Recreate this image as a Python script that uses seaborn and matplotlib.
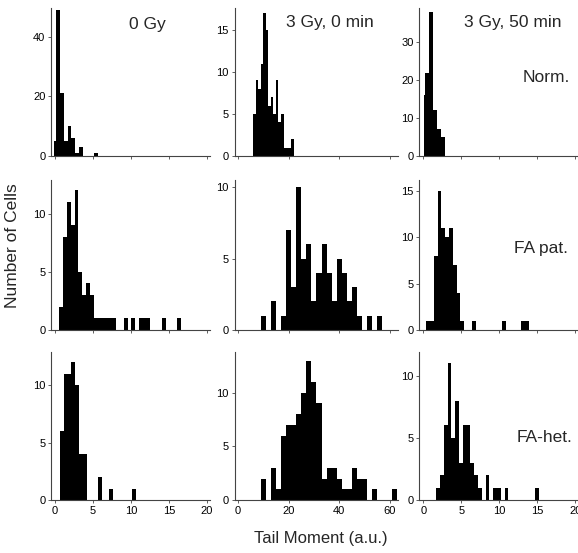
import numpy as np
import pandas as pd
import matplotlib
matplotlib.use("Agg")
import matplotlib.pyplot as plt
import seaborn as sns

# Bin counts (left edge of first bin, bin width, counts)
# rows: Norm., FA pat., FA-het. / columns: 0 Gy, 3 Gy 0 min, 3 Gy 50 min
norm_0gy = [5, 49, 21, 5, 10, 6, 1, 3, 0, 0, 0, 1]
norm_0gy_bins = (-0.35, 0.5, -0.13)

norm_3gy0 = [5, 9, 8, 11, 17, 15, 6, 7, 5, 9, 4, 5, 1, 1, 1, 2]
norm_3gy0_bins = (6, 1, None)

norm_3gy50 = [16, 22, 38, 12, 7, 5]
norm_3gy50_bins = (-0.2, 0.5, 0.13)

fa_0gy = [2, 8, 11, 9, 12, 5, 3, 4, 3, 1, 1, 1, 1, 1, 1, 0, 0, 1, 0, 1,
          0, 1, 1, 1, 0, 0, 0, 1, 0, 0, 0, 1]
fa_0gy_bins = (0.55, 0.5, None)

fa_3gy0 = [1, 0, 2, 0, 1, 7, 3, 10, 5, 6, 2, 4, 6, 4, 2, 5, 4, 2, 3, 1,
           0, 1, 0, 1]
fa_3gy0_bins = (9, 2, None)

fa_3gy50 = [1, 1, 8, 15, 11, 10, 11, 7, 4, 1, 0, 0, 1, 0, 0, 0, 0, 0, 0,
            0, 1, 0, 0, 0, 0, 1, 1]
fa_3gy50_bins = (0.4, 0.5, None)

het_0gy = [6, 11, 11, 12, 10, 4, 4, 0, 0, 0, 2, 0, 0, 1, 0, 0, 0, 0, 0, 1]
het_0gy_bins = (0.65, 0.5, None)

het_3gy0 = [2, 0, 3, 1, 6, 7, 7, 8, 10, 13, 11, 9, 2, 3, 3, 2, 1, 1, 3, 2,
            2, 0, 1, 0, 0, 0, 1]
het_3gy0_bins = (9, 2, None)

het_3gy50 = [1, 2, 6, 11, 5, 8, 3, 6, 6, 3, 2, 1, 0, 2, 0, 1, 1, 0, 1, 0,
             0, 0, 0, 0, 0, 0, 1]
het_3gy50_bins = (1.7, 0.5, None)

col_titles = ["0 Gy", "3 Gy, 0 min", "3 Gy, 50 min"]
row_titles = ["Norm.", "FA pat.", "FA-het."]

W, H = 578, 553


def px(x, y):
    return x / W, 1 - y / H


def edges_for(counts, bins):
    start, width, first_left = bins
    e = start + width * np.arange(len(counts) + 1)
    if first_left is not None:
        e[0] = first_left
    return e


def draw(ax, counts, bins):
    e = edges_for(counts, bins)
    df = pd.DataFrame({"tail": (e[:-1] + e[1:]) / 2, "n": counts})
    sns.histplot(data=df, x="tail", weights="n", bins=e.tolist(), ax=ax,
                 element="step", fill=True, color="black", alpha=1,
                 linewidth=0)
    ax.set(xlabel="", ylabel="")


sns.set_style("ticks")
plt.rcParams["font.family"] = ["Liberation Sans", "DejaVu Sans"]

fig = plt.figure(figsize=(W / 100, H / 100), dpi=100)

# axes boxes in pixels: (left, width) per column, (baseline, top) per row
cols = [(51, 159), (234.5, 163.5), (419, 158)]
rows = [(156, 8), (330, 180), (500, 352)]

data = [
    [(norm_0gy, norm_0gy_bins), (norm_3gy0, norm_3gy0_bins), (norm_3gy50, norm_3gy50_bins)],
    [(fa_0gy, fa_0gy_bins), (fa_3gy0, fa_3gy0_bins), (fa_3gy50, fa_3gy50_bins)],
    [(het_0gy, het_0gy_bins), (het_3gy0, het_3gy0_bins), (het_3gy50, het_3gy50_bins)],
]
ylims = [[49.7, 17.6, 39], [12.9, 10.5, 16.2], [12.9, 13.8, 11.9]]
yticks = [[[0, 20, 40], [0, 5, 10, 15], [0, 10, 20, 30]],
          [[0, 5, 10], [0, 5, 10], [0, 5, 10, 15]],
          [[0, 5, 10], [0, 5, 10], [0, 5, 10]]]
xlims = [(-0.55, 20.4), (-1.35, 63.2), (-0.55, 20.2)]
xticks = [[0, 5, 10, 15, 20], [0, 20, 40, 60], [0, 5, 10, 15, 20]]

for r, (base, top) in enumerate(rows):
    for c, (left, width) in enumerate(cols):
        x0, y0 = px(left, base)
        ax = fig.add_axes([x0, y0, width / W, (base - top) / H])
        counts, bins = data[r][c]
        draw(ax, counts, bins)
        ax.set_xlim(*xlims[c])
        ax.set_ylim(0, ylims[r][c])
        ax.set_xticks(xticks[c])
        ax.set_yticks(yticks[r][c])
        if r < 2:
            ax.set_xticklabels([])
        sns.despine(ax=ax)
        for s in ("left", "bottom"):
            ax.spines[s].set_color("#444444")
            ax.spines[s].set_linewidth(0.8)
        ax.tick_params(length=2.5, width=0.6, color="#444444", labelsize=8,
                       pad=1.5, labelcolor="black")
        ax.set_facecolor("none")

# column and row labels
for (x, y), t in zip([(147, 24), (330, 23), (513, 23)], col_titles):
    fig.text(*px(x, y), t, ha="center", va="center", fontsize=12.5)
for (x, y), t in zip([(570, 78), (568, 248), (572, 437)], row_titles):
    fig.text(*px(x, y), t, ha="right", va="center", fontsize=12.5)

fig.text(*px(13, 246), "Number of Cells", rotation=90, ha="center",
         va="center", fontsize=12.5)
fig.text(*px(321, 538), "Tail Moment (a.u.)", ha="center", va="center",
         fontsize=12)

fig.savefig("out.png", dpi=100)
